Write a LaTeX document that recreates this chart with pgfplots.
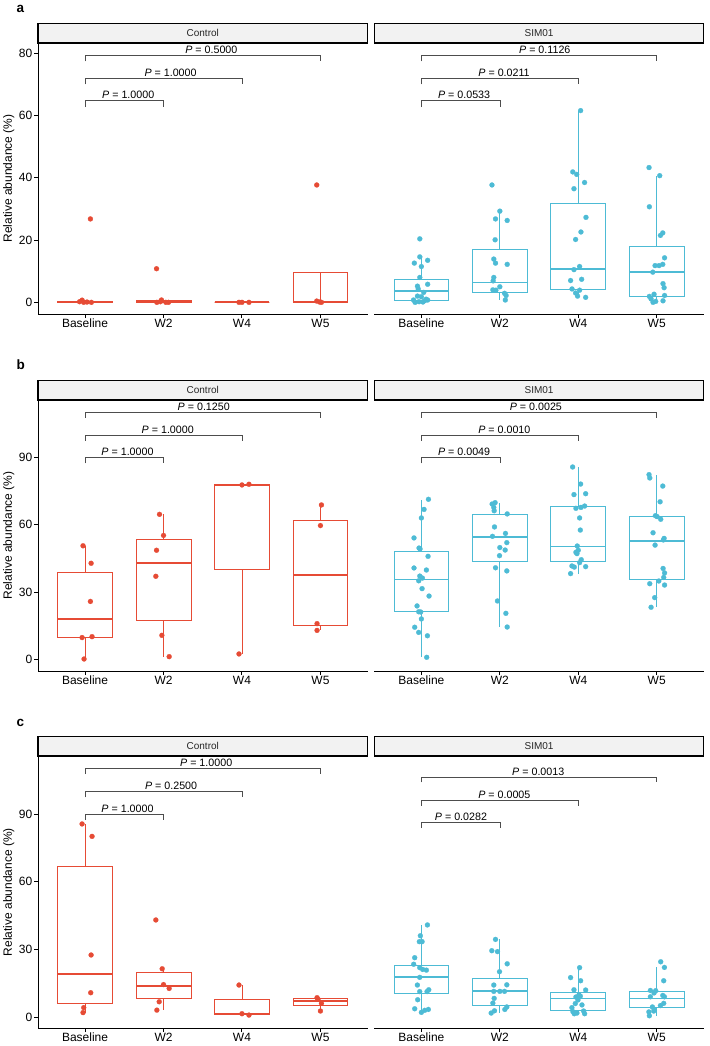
\documentclass[border=0pt]{standalone}
\usepackage{pgfplots}
\pgfplotsset{compat=1.18}
\usepgfplotslibrary{statistics}
\usepackage{fontspec}
\setmainfont{Liberation Sans}
\definecolor{npgred}{HTML}{E64B35}
\definecolor{npgblue}{HTML}{4DBBD5}
\definecolor{stripfill}{HTML}{F2F2F2}
\definecolor{brkcol}{HTML}{4D4D4D}

\pgfplotsset{
  panel/.style={scale only axis, width=329.5pt, xmin=0.4, xmax=4.6,
    xtick={1,2,3,4}, xticklabels={Baseline,W2,W4,W5},
    tick align=outside, major tick length=4pt,
    axis line style={-, line width=1pt, black},
    every tick/.style={line width=1pt, black},
    ticklabel style={font=\fontsize{12}{14}\selectfont, text=black},
    xticklabel style={inner sep=1pt},
    yticklabel style={inner sep=1.5pt},
    /pgf/number format/assume math mode=true,
    clip=false},
  ctrl/.style={panel, axis lines*=left,
    ylabel={Relative abundance (\%)},
    ylabel style={at={(axis description cs:-0.089,0.5)}, anchor=center, font=\fontsize{12}{14}\selectfont}},
  sim/.style={panel, axis x line*=bottom, axis y line=none, ymajorticks=false},
  rowa/.style={height=271pt, ymin=-3.75, ymax=83.32, ytick={0,20,40,60,80}},
  rowb/.style={height=271pt, ymin=-5.2, ymax=115.55, ytick={0,30,60,90}},
  rowc/.style={height=272pt, ymin=-4.72, ymax=115.67, ytick={0,30,60,90}},
  pts/.style={only marks, mark=*, mark size=2.5pt, mark options={solid, line width=0.2pt}},
}

\newcommand{\bx}[7]{\addplot[draw=#1, line width=0.8pt, boxplot prepared={draw direction=y, draw position=#2, lower whisker=#3, lower quartile=#4, median=#5, upper quartile=#6, upper whisker=#7, box extend=0.7, whisker extend=0, every median/.style={line width=1.8pt}}] coordinates {};}
\newcommand{\strip}[1]{\draw[fill=stripfill, line width=1.2pt, draw=black] (rel axis cs:0,1) rectangle ([yshift=19.5pt]rel axis cs:1,1);
  \node[font=\fontsize{10}{12}\selectfont, text=black!85] at ([yshift=9.75pt]rel axis cs:0.5,1) {#1};}
\newcommand{\brk}[6]{\addplot[brkcol, line width=0.6pt, mark=none] coordinates {(#1,#3) (#1,#4) (#2,#4) (#2,#3)};
  \node[anchor=south, inner sep=1.5pt, font=\fontsize{10.7}{12}\selectfont] at (axis cs:#5,#4) {\textit{P} = #6};}

\begin{document}
\begin{tikzpicture}
\path[use as bounding box] (0,0) rectangle (709pt,-1046pt);

\node[anchor=base west, font=\bfseries\fontsize{13.5}{15}\selectfont, inner sep=0pt] at (16.5pt,-12.7pt) {a};
\node[anchor=base west, font=\bfseries\fontsize{13.5}{15}\selectfont, inner sep=0pt] at (16.5pt,-369.3pt) {b};
\node[anchor=base west, font=\bfseries\fontsize{13.5}{15}\selectfont, inner sep=0pt] at (16.5pt,-726pt) {c};

%% ===== Row a, Control
\begin{axis}[ctrl, rowa, at={(38pt,-314pt)}, anchor=south west]
\strip{Control}
\bx{npgred}{1}{0}{0.05}{0.15}{0.45}{0.7}
\bx{npgred}{2}{0}{0}{0.1}{0.5}{0.75}
\bx{npgred}{3}{0}{0}{0}{0}{0}
\bx{npgred}{4}{0}{0.07}{0.25}{9.6}{0.4}
\addplot[pts, npgred] coordinates {(0.962,0.7) (0.983,0) (1.08,0) (1.068,26.8) (0.93,0.2) (1.025,0.1)
 (1.911,10.8) (1.974,0.75) (1.915,0) (2.03,0) (2.064,0) (1.96,0.2)
 (2.962,0) (3.0,0) (3.089,0)
 (3.953,37.7) (3.953,0.4) (4.013,0) (3.99,0.1)};
\brk{1}{2}{62.7}{64.8}{1.55}{1.0000}
\brk{1}{3}{70.0}{72.0}{2.09}{1.0000}
\brk{1}{4}{77.4}{79.4}{2.61}{0.5000}
\end{axis}

%% ===== Row a, SIM01
\begin{axis}[sim, rowa, at={(374.3pt,-314pt)}, anchor=south west]
\strip{SIM01}
\bx{npgblue}{1}{0}{0.75}{3.75}{7.5}{14.6}
\bx{npgblue}{2}{0.75}{3.3}{6.4}{17.0}{29.3}
\bx{npgblue}{3}{1.6}{4.0}{10.6}{31.9}{61.6}
\bx{npgblue}{4}{0}{1.9}{9.7}{17.9}{40.7}
\addplot[pts, npgblue] coordinates {(0.98,20.4) (0.98,14.6) (0.91,12.6) (1.08,13.5) (1.0,11.5) (0.98,8.0) (0.95,5.2) (1.08,5.8) (0.96,4.3) (1.03,3.2) (0.95,2.0) (1.0,1.8) (0.90,0.75) (0.97,0.2) (1.04,0.5) (1.08,0.75) (0.92,0.0) (1.02,0.1) (1.06,1.0)
 (1.90,37.7) (2.0,29.3) (1.945,26.8) (2.094,26.3) (1.94,20.1) (1.923,13.9) (1.945,12.6) (2.094,12.2) (1.923,8.0) (1.915,6.9) (2.0,5.0) (1.911,4.0) (1.95,3.9) (2.06,2.9) (2.08,2.2) (2.07,0.75)
 (3.03,61.6) (2.93,41.9) (2.98,41.1) (3.08,38.5) (2.945,36.5) (3.098,27.3) (3.034,22.6) (2.966,20.2) (3.017,11.5) (2.945,10.5) (2.902,7.0) (3.043,7.4) (2.92,4.3) (3.017,3.9) (2.966,3.0) (2.991,2.0) (3.094,1.6)
 (3.902,43.3) (4.038,40.7) (3.906,30.7) (4.047,21.5) (4.077,22.3) (4.1,14.3) (3.979,11.8) (4.03,11.8) (4.077,12.2) (3.95,9.7) (4.08,6.0) (4.094,4.7) (3.906,1.9) (4.1,2.2) (3.966,2.6) (3.928,1.1) (3.987,0.3) (3.953,0) (4.08,0.5)};
\brk{1}{2}{62.7}{64.8}{1.545}{0.0533}
\brk{1}{3}{70.0}{72.0}{2.054}{0.0211}
\brk{1}{4}{77.4}{79.4}{2.573}{0.1126}
\end{axis}

%% ===== Row b, Control
\begin{axis}[ctrl, rowb, at={(38pt,-671pt)}, anchor=south west]
\strip{Control}
\bx{npgred}{1}{0.15}{9.8}{18.0}{38.6}{50.6}
\bx{npgred}{2}{1.2}{17.3}{42.9}{53.5}{64.6}
\bx{npgred}{3}{2.4}{40.0}{77.7}{77.85}{78.0}
\bx{npgred}{4}{12.9}{15.15}{37.7}{61.9}{68.8}
\addplot[pts, npgred] coordinates {(0.974,50.6) (1.077,42.8) (1.068,25.8) (0.962,9.7) (1.089,10.1) (0.987,0.15)
 (1.949,64.6) (2.0,55.2) (1.911,48.6) (1.902,37.0) (1.979,10.7) (2.072,1.2)
 (3.0,77.7) (3.089,78.0) (2.962,2.4)
 (4.013,68.8) (4.0,59.6) (3.957,15.9) (3.957,12.9)};
\brk{1}{2}{87.3}{89.8}{1.541}{1.0000}
\brk{1}{3}{97.4}{99.9}{2.054}{1.0000}
\brk{1}{4}{107.7}{110.2}{2.513}{0.1250}
\end{axis}

%% ===== Row b, SIM01
\begin{axis}[sim, rowb, at={(374.3pt,-671pt)}, anchor=south west]
\strip{SIM01}
\bx{npgblue}{1}{0.9}{21.2}{35.6}{48.3}{71.0}
\bx{npgblue}{2}{14.4}{43.7}{54.5}{64.8}{69.8}
\bx{npgblue}{3}{38.2}{43.8}{50.3}{68.0}{85.6}
\bx{npgblue}{4}{23.2}{35.6}{52.7}{63.7}{82.3}
\addplot[pts, npgblue] coordinates {(1.09,71.3) (1.034,66.8) (1.0,63.0) (0.906,54.1) (0.97,49.6) (0.983,49.2) (1.085,45.9) (0.906,40.7) (1.064,39.8) (0.98,37.1) (1.013,36.2) (0.966,35.0) (1.009,31.5) (1.098,28.2) (0.945,23.8) (0.966,21.2) (0.991,21.1) (1.0,18.0) (0.915,14.3) (0.966,12.0) (1.077,10.5) (1.068,0.9)
 (1.902,69.2) (1.94,69.8) (1.923,67.7) (1.928,66.2) (2.094,64.8) (1.932,59.0) (1.906,54.8) (2.072,56.1) (2.089,52.0) (2.0,49.8) (2.068,48.7) (1.996,46.2) (1.945,40.8) (2.089,39.4) (1.97,26.0) (2.077,20.5) (2.094,14.4)
 (2.928,85.7) (3.03,78.1) (2.945,73.4) (3.094,73.8) (2.97,67.3) (3.034,67.7) (3.081,68.3) (3.017,63.0) (3.026,57.6) (2.987,50.5) (3.0,48.6) (2.97,47.7) (2.983,47.1) (3.038,44.4) (3.017,43.1) (2.919,41.6) (2.949,41.1) (3.094,41.3) (2.902,38.2)
 (3.902,82.3) (3.911,80.8) (4.077,77.2) (4.043,70.2) (3.983,64.0) (4.004,63.6) (4.051,62.4) (3.953,56.4) (4.094,53.9) (4.085,53.2) (3.979,50.9) (4.081,40.5) (4.1,38.5) (4.089,36.5) (4.026,34.9) (3.911,33.7) (4.1,33.1) (3.974,27.5) (3.928,23.2)};
\brk{1}{2}{87.3}{89.8}{1.545}{0.0049}
\brk{1}{3}{97.4}{99.9}{2.058}{0.0010}
\brk{1}{4}{107.7}{110.2}{2.46}{0.0025}
\end{axis}

%% ===== Row c, Control
\begin{axis}[ctrl, rowc, at={(38pt,-1028pt)}, anchor=south west]
\strip{Control}
\bx{npgred}{1}{2.1}{6.0}{19.3}{67.0}{85.6}
\bx{npgred}{2}{3.2}{8.4}{13.7}{19.8}{21.5}
\bx{npgred}{3}{1.0}{1.3}{1.6}{7.9}{14.3}
\bx{npgred}{4}{2.8}{5.35}{7.1}{8.2}{8.7}
\addplot[pts, npgred] coordinates {(0.962,85.6) (1.089,80.1) (1.077,27.6) (1.072,10.9) (0.983,4.3) (0.974,2.1)
 (1.902,43.1) (1.983,21.5) (2.0,14.5) (2.072,12.8) (1.945,6.9) (1.915,3.2)
 (2.962,14.3) (3.0,1.6) (3.089,1.0)
 (3.957,8.7) (3.97,8.0) (4.013,6.2) (4.0,2.8)};
\brk{1}{2}{87.3}{89.9}{1.541}{1.0000}
\brk{1}{3}{97.4}{99.9}{2.097}{0.2500}
\brk{1}{4}{107.6}{110.1}{2.544}{1.0000}
\end{axis}

%% ===== Row c, SIM01
\begin{axis}[sim, rowc, at={(374.3pt,-1028pt)}, anchor=south west]
\strip{SIM01}
\bx{npgblue}{1}{2.2}{10.6}{17.7}{23.2}{40.9}
\bx{npgblue}{2}{1.9}{5.5}{11.5}{17.3}{34.5}
\bx{npgblue}{3}{1.6}{3.2}{8.3}{10.9}{22.0}
\bx{npgblue}{4}{0.7}{4.3}{8.3}{11.7}{22.1}
\addplot[pts, npgblue] coordinates {(1.077,40.9) (0.987,36.1) (0.974,33.5) (1.009,33.5) (0.915,26.4) (0.902,23.5) (0.979,22.0) (1.017,21.2) (1.064,20.9) (0.979,17.7) (0.949,14.3) (1.094,12.2) (1.072,11.4) (0.979,11.4) (0.953,7.8) (0.915,3.8) (1.0,2.2) (1.043,3.1) (1.089,3.5)
 (1.945,34.5) (1.898,29.5) (1.97,29.1) (2.094,23.7) (1.996,20.2) (1.923,14.3) (2.089,14.4) (1.923,11.5) (2.0,11.5) (2.06,11.5) (1.928,8.4) (1.911,6.3) (2.089,4.6) (2.064,3.5) (1.932,2.9) (1.89,1.9)
 (3.017,22.0) (2.902,17.6) (3.03,16.2) (2.945,12.2) (3.094,12.1) (3.009,9.9) (3.026,9.4) (2.97,9.0) (2.996,7.7) (2.962,6.1) (2.919,4.3) (3.047,5.5) (2.932,2.5) (2.983,1.9) (3.068,2.8) (3.081,1.6) (2.949,1.6)
 (4.051,24.6) (4.098,22.1) (4.089,16.2) (3.987,11.8) (3.919,11.9) (3.966,10.8) (4.077,9.7) (3.919,9.1) (4.098,9.1) (4.089,6.2) (4.047,5.2) (3.945,4.6) (3.97,3.5) (3.9,2.4) (3.962,2.8) (3.906,0.7)};
\brk{1}{2}{83.7}{86.2}{1.505}{0.0282}
\brk{1}{3}{93.7}{96.2}{2.058}{0.0005}
\brk{1}{4}{104.0}{106.4}{2.49}{0.0013}
\end{axis}
\end{tikzpicture}
\end{document}
